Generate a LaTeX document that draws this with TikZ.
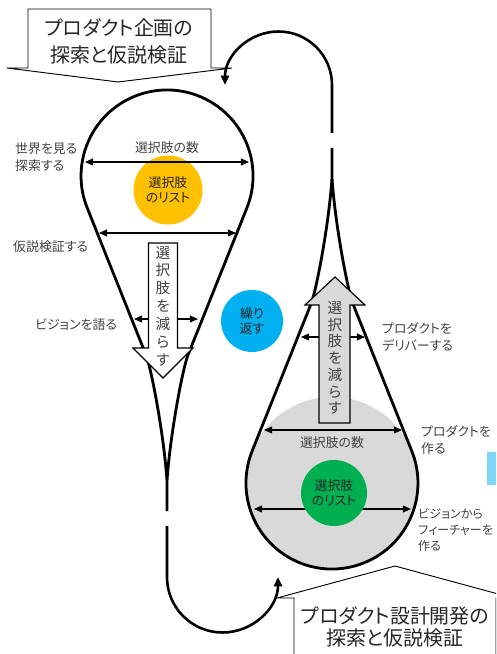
\documentclass[tikz,border=0pt]{standalone}
\usepackage{fontspec}
\setmainfont{Noto Sans CJK JP}[RawFeature=+palt]
\usepackage{tikz}
\usetikzlibrary{arrows.meta}
\usetikzlibrary{positioning}
\definecolor{myellow}{HTML}{FFC000}
\definecolor{mblue}{HTML}{00B0F0}
\definecolor{mgreen}{HTML}{00B050}
\definecolor{mgray}{HTML}{D9D9D9}
\definecolor{msky}{HTML}{7DD5F7}
\definecolor{tdark}{HTML}{262626}
\definecolor{tgray}{HTML}{404040}
\tikzset{dropline/.style = {line width = 2.4pt, line join = round}}
\tikzset{uturn/.style = {line width = 2.2pt, -{Triangle[length = 8pt, width = 7pt]}}}
\tikzset{gauge/.style = {line width = 1pt, {Triangle[length = 7pt, width = 6pt]}-{Triangle[length = 7pt, width = 6pt]}}}
\tikzset{push/.style = {line width = 1pt, -{Triangle[length = 7pt, width = 6pt]}}}
\tikzset{block/.style = {draw, line width = 1pt, line join = miter}}
\tikzset{bubble/.style = {draw, fill = white, line width = 0.8pt}}
\tikzset{blob/.style = {circle, inner sep = 0, text = tdark, align = center, font = \fontsize{11}{12.5}\selectfont}}
\tikzset{lbl/.style = {inner sep = 0, text = tgray, align = left, anchor = west, font = \fontsize{11}{14}\selectfont}}
\tikzset{vtext/.style = {inner sep = 0, text = tgray, align = center}}
\tikzset{titletext/.style = {inner sep = 0, text = tdark, align = center}}
\tikzset{drop/.pic = {
    \draw [dropline] (0, 305) .. controls (-3, 260) and (-15, 196) .. (-20.6, 180)
        -- (-79.8, 31.9) arc (158.2:381.8:86)
        -- (20.6, 180) .. controls (15, 196) and (3, 260) .. (0, 305) -- (0, 335);
}}

\begin{document}
\begin{tikzpicture}[x = 0.03cm, y = -0.03cm]
    \useasboundingbox (0, 0) rectangle (496, 654);
    \clip (0, 0) rectangle (496, 654);

    % callouts
    \draw [bubble] (28, 9) -- (211, 9) -- (211, 68) -- (232, 68) -- (118, 82) -- (7, 68) -- (28, 68) -- cycle;
    \node [titletext, font = \fontsize{17}{23}\selectfont] (plan) at (119, 41) {プロダクト企画の\\探索と仮説検証};
    \draw [bubble] (294, 670) -- (294, 598) -- (277, 598) -- (395, 566) -- (513, 598) -- (496, 598) -- (496, 670);
    \node [titletext, font = \fontsize{17}{19.5}\selectfont] (build) at (395, 627) {プロダクト設計開発の\\探索と仮説検証};

    % circles
    \fill [mgray] (332, 483) circle [radius = 86];
    \node [blob, fill = myellow, minimum size = 2.07cm] (listA) at (168, 190) {選択肢\\のリスト};
    \node [blob, fill = mblue, minimum size = 1.86cm] (again) at (252, 321) {繰り\\返す};
    \fill [msky] (487, 452) rectangle (496, 485);

    % teardrops
    \pic at (167, 176) {drop};
    \pic [rotate = 180] at (332, 483) {drop};

    % loops
    \coordinate (gapA) at (167, 526);
    \draw [uturn] (gapA) -- ++(0, 51) arc (180:0:55.5);
    \coordinate (gapB) at (332, 133);
    \draw [uturn] (gapB) -- ++(0, -48) arc (0:-180:53.5);

    % block arrows
    \draw [block, fill = white] (148.5, 243) -- (177.5, 243) -- (177.5, 348) -- (193, 348)
        -- (163, 378) -- (133, 348) -- (148.5, 348) -- cycle;
    \node [vtext, font = \fontsize{12.5}{15.2}\selectfont] (cutA) at (163, 306) {選\\択\\肢\\を\\減\\ら\\す};
    \draw [block, fill = mgray] (319, 423) -- (350, 423) -- (350, 305) -- (365, 305)
        -- (335, 277) -- (305, 305) -- (319, 305) -- cycle;
    \node [vtext, font = \fontsize{12.5}{14.3}\selectfont] (cutB) at (335, 358) {選\\択\\肢\\を\\減\\ら\\す};

    % widths
    \coordinate (seeL) at (85, 162);
    \coordinate (seeR) at (249, 162);
    \draw [gauge] (seeL) -- (seeR);
    \coordinate (testL) at (99, 233);
    \coordinate (testR) at (236, 233);
    \draw [gauge] (testL) -- (testR);
    \coordinate (shaftAL) at (148.5, 319);
    \coordinate (shaftAR) at (177.5, 319);
    \coordinate (talkL) at (134, 319);
    \coordinate (talkR) at (198, 319);
    \draw [push] (shaftAL) -- (talkL);
    \draw [push] (shaftAR) -- (talkR);
    \coordinate (shaftBL) at (319, 337);
    \coordinate (shaftBR) at (350, 337);
    \coordinate (shipL) at (301, 337);
    \coordinate (shipR) at (365, 337);
    \draw [push] (shaftBL) -- (shipL);
    \draw [push] (shaftBR) -- (shipR);
    \coordinate (makeL) at (264, 430);
    \coordinate (makeR) at (402, 430);
    \draw [gauge] (makeL) -- (makeR);
    \coordinate (featL) at (254, 509);
    \coordinate (featR) at (411, 509);
    \draw [gauge] (featL) -- (featR);
    \node [blob, fill = mgreen, minimum size = 1.98cm] (listB) at (334, 493) {選択肢\\のリスト};

    % labels
    \node [lbl, anchor = center] (countA) at (167, 148) {選択肢の数};
    \node [lbl, anchor = center] (countB) at (332, 443) {選択肢の数};
    \node [lbl] (world) at (15, 157) {世界を見る\\探索する};
    \node [lbl] (test) at (13, 247) {仮説検証する};
    \node [lbl] (vision) at (35, 325) {ビジョンを語る};
    \node [lbl] (deliver) at (382, 337) {プロダクトを\\デリバーする};
    \node [lbl] (make) at (421, 440) {プロダクトを\\作る};
    \node [lbl, font = \fontsize{10.3}{14}\selectfont] (feature) at (418, 530) {ビジョンから\\フィーチャーを\\作る};
  \end{tikzpicture}
\end{document}
